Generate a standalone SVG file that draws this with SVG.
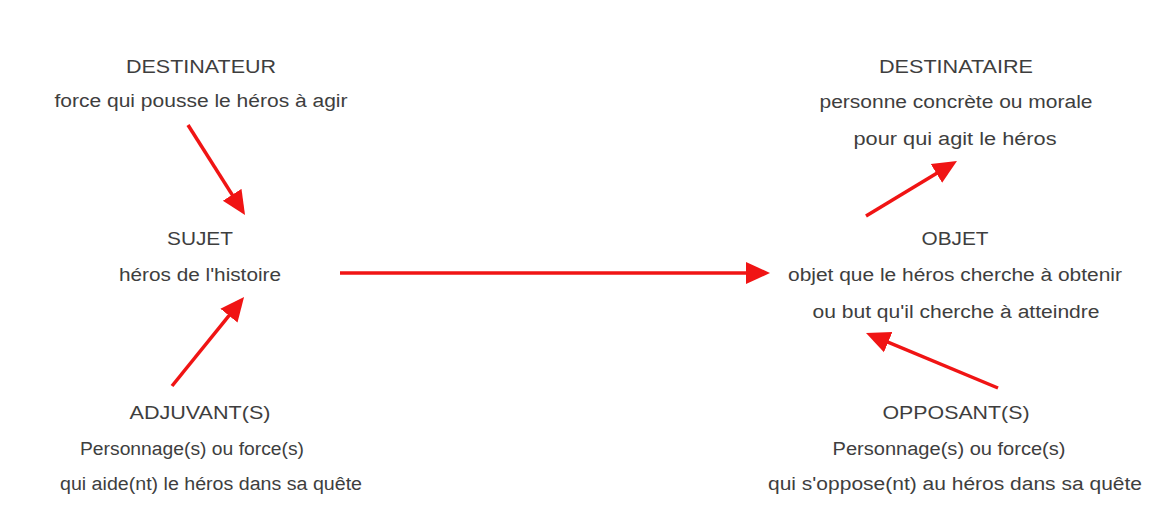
<svg xmlns="http://www.w3.org/2000/svg" width="1159" height="529" viewBox="0 0 1159 529">
  <style>
    text { font-family: "Liberation Sans", Arial, sans-serif; font-size: 18px; fill: #3e3e3e; text-anchor: middle; }
    .conn { stroke: #f01414; stroke-width: 3.5; fill: none; marker-end: url(#arrow); }
  </style>
  <defs>
    <marker id="arrow" markerUnits="userSpaceOnUse" markerWidth="26" markerHeight="24" refX="12" refY="12" orient="auto" viewBox="0 0 26 24">
      <path d="M0,1 L24,12 L0,23 z" fill="#f01414"/>
    </marker>
  </defs>
  <rect width="1159" height="529" fill="#ffffff"/>

  <g id="destinateur">
    <text x="201" y="73" textLength="150" lengthAdjust="spacingAndGlyphs">DESTINATEUR</text>
    <text x="201" y="107" textLength="293" lengthAdjust="spacingAndGlyphs">force qui pousse le héros à agir</text>
  </g>
  <g id="destinataire">
    <text x="956" y="73" textLength="154" lengthAdjust="spacingAndGlyphs">DESTINATAIRE</text>
    <text x="956" y="108" textLength="273" lengthAdjust="spacingAndGlyphs">personne concrète ou morale</text>
    <text x="955" y="145" textLength="203" lengthAdjust="spacingAndGlyphs">pour qui agit le héros</text>
  </g>
  <g id="sujet">
    <text x="200" y="245" textLength="66" lengthAdjust="spacingAndGlyphs">SUJET</text>
    <text x="200" y="281" textLength="162" lengthAdjust="spacingAndGlyphs">héros de l'histoire</text>
  </g>
  <g id="objet">
    <text x="955" y="245" textLength="67" lengthAdjust="spacingAndGlyphs">OBJET</text>
    <text x="955" y="281" textLength="334" lengthAdjust="spacingAndGlyphs">objet que le héros cherche à obtenir</text>
    <text x="956" y="318" textLength="287" lengthAdjust="spacingAndGlyphs">ou but qu'il cherche à atteindre</text>
  </g>
  <g id="adjuvant">
    <text x="200" y="419" textLength="141" lengthAdjust="spacingAndGlyphs">ADJUVANT(S)</text>
    <text x="192" y="455" textLength="224" lengthAdjust="spacingAndGlyphs">Personnage(s) ou force(s)</text>
    <text x="211" y="490" textLength="302" lengthAdjust="spacingAndGlyphs">qui aide(nt) le héros dans sa quête</text>
  </g>
  <g id="opposant">
    <text x="956" y="419" textLength="147" lengthAdjust="spacingAndGlyphs">OPPOSANT(S)</text>
    <text x="949" y="455" textLength="233" lengthAdjust="spacingAndGlyphs">Personnage(s) ou force(s)</text>
    <text x="955" y="490" textLength="374" lengthAdjust="spacingAndGlyphs">qui s'oppose(nt) au héros dans sa quête</text>
  </g>

  <g id="connectors">
    <line class="conn" x1="188" y1="125" x2="238.6" y2="204.9"/>
    <line class="conn" x1="172" y1="386" x2="236.5" y2="306.3"/>
    <line class="conn" x1="340" y1="273" x2="758" y2="273"/>
    <line class="conn" x1="866" y1="216" x2="946.7" y2="167.2"/>
    <line class="conn" x1="998" y1="388" x2="877.1" y2="337.6"/>
  </g>
</svg>
